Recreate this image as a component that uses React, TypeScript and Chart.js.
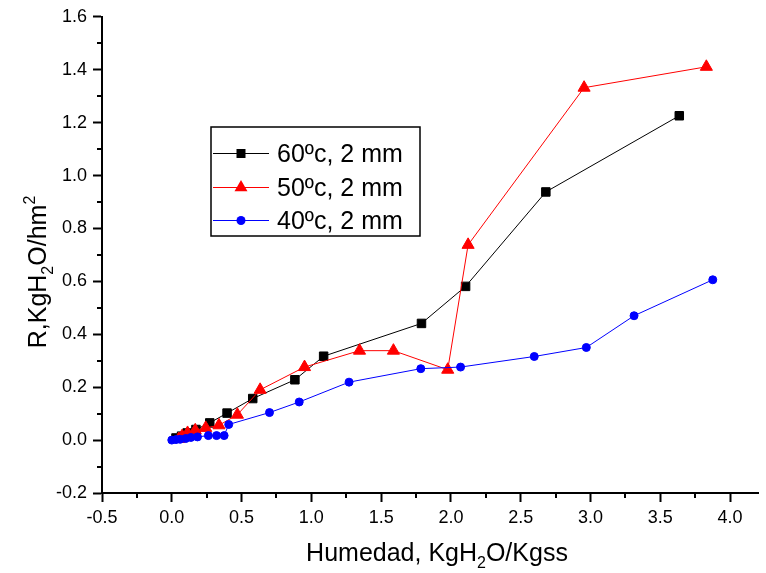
import React, { useEffect, useRef } from 'react';
import { Chart, registerables } from 'chart.js';

Chart.register(...registerables);

// ---- Data ----
const HUM_60 = [0.03, 0.07, 0.11, 0.173, 0.272, 0.396, 0.58, 0.882, 1.088, 1.789, 2.105, 2.68, 3.636];
const R_60 = [0.008, 0.015, 0.027, 0.04, 0.065, 0.102, 0.157, 0.228, 0.317, 0.441, 0.581, 0.938, 1.226];

const HUM_50 = [0.05, 0.074, 0.113, 0.168, 0.243, 0.338, 0.47, 0.633, 0.951, 1.345, 1.588, 1.977, 2.123, 2.954, 3.83];
const R_50 = [0.004, 0.015, 0.027, 0.037, 0.046, 0.056, 0.096, 0.19, 0.276, 0.338, 0.338, 0.266, 0.738, 1.332, 1.411];

const HUM_40 = [0.0, 0.03, 0.06, 0.1, 0.137, 0.184, 0.262, 0.321, 0.375, 0.408, 0.7, 0.913, 1.27, 1.784, 2.069, 2.597, 2.97, 3.312, 3.876];
const R_40 = [0.0, 0.002, 0.003, 0.006, 0.01, 0.012, 0.017, 0.017, 0.017, 0.059, 0.104, 0.144, 0.219, 0.27, 0.276, 0.316, 0.35, 0.47, 0.606];

const SERIES_LABELS = ['60ºc, 2 mm', '50ºc, 2 mm', '40ºc, 2 mm'];
const SERIES_COLORS = ['#000000', '#ff0000', '#0000ff'];

const X_MIN = -0.5;
const X_MAX = 4.2;
const X_STEP = 0.5;
const Y_MIN = -0.2;
const Y_MAX = 1.6;
const Y_STEP = 0.2;

const X_TITLE = [
  { t: 'Humedad, KgH', s: 25, dy: 0 },
  { t: '2', s: 16, dy: 7 },
  { t: 'O/Kgss', s: 25, dy: 0 },
];
const Y_TITLE = [
  { t: 'R,KgH', s: 25, dy: 0 },
  { t: '2', s: 16, dy: 7 },
  { t: 'O/hm', s: 25, dy: 0 },
  { t: '2', s: 16, dy: -11 },
];

const FONT = 'Arial, "Liberation Sans", sans-serif';

function toPoints(xs: number[], ys: number[]) {
  return xs.map((x, i) => ({ x, y: ys[i] }));
}

function drawRich(ctx: CanvasRenderingContext2D, segs: { t: string; s: number; dy: number }[], cx: number, base: number) {
  let total = 0;
  const widths = segs.map((sg) => {
    ctx.font = `${sg.s}px ${FONT}`;
    const w = ctx.measureText(sg.t).width;
    total += w;
    return w;
  });
  let x = cx - total / 2;
  ctx.textAlign = 'left';
  ctx.textBaseline = 'alphabetic';
  segs.forEach((sg, i) => {
    ctx.font = `${sg.s}px ${FONT}`;
    ctx.fillText(sg.t, x, base + sg.dy);
    x += widths[i];
  });
}

function drawMarker(ctx: CanvasRenderingContext2D, kind: string, x: number, y: number, color: string) {
  ctx.fillStyle = color;
  ctx.beginPath();
  if (kind === 'rect') {
    ctx.rect(x - 4.5, y - 4.5, 9, 9);
  } else if (kind === 'triangle') {
    const r = 7.5;
    ctx.moveTo(x, y - r);
    ctx.lineTo(x + r * 0.866, y + r / 2);
    ctx.lineTo(x - r * 0.866, y + r / 2);
    ctx.closePath();
  } else {
    ctx.arc(x, y, 4.5, 0, Math.PI * 2);
  }
  ctx.fill();
}

const decorPlugin = {
  id: 'decor',
  afterDraw(chart: any) {
    const ctx: CanvasRenderingContext2D = chart.ctx;
    const xs = chart.scales.x;
    const ys = chart.scales.y;
    const area = chart.chartArea;
    ctx.save();
    ctx.strokeStyle = '#000';
    ctx.lineWidth = 2;
    // minor ticks
    ctx.beginPath();
    for (let v = X_MIN + X_STEP / 2; v < X_MAX; v += X_STEP) {
      const px = Math.round(xs.getPixelForValue(v));
      ctx.moveTo(px, area.bottom);
      ctx.lineTo(px, area.bottom + 5);
    }
    for (let v = Y_MIN + Y_STEP / 2; v < Y_MAX; v += Y_STEP) {
      const py = Math.round(ys.getPixelForValue(v));
      ctx.moveTo(area.left - 5, py);
      ctx.lineTo(area.left, py);
    }
    ctx.stroke();

    // legend
    ctx.lineWidth = 1.5;
    ctx.strokeRect(211, 127, 209, 109);
    const kinds = ['rect', 'triangle', 'circle'];
    const rows = [153, 187, 220];
    rows.forEach((ry, i) => {
      ctx.strokeStyle = SERIES_COLORS[i];
      ctx.lineWidth = 1;
      ctx.beginPath();
      ctx.moveTo(213, ry + 0.5);
      ctx.lineTo(269, ry + 0.5);
      ctx.stroke();
      drawMarker(ctx, kinds[i], 241, ry + 0.5, SERIES_COLORS[i]);
      ctx.fillStyle = '#000';
      ctx.font = `25px ${FONT}`;
      ctx.textAlign = 'left';
      ctx.textBaseline = 'alphabetic';
      ctx.fillText(SERIES_LABELS[i], 277, ry + 9);
    });

    // axis titles
    ctx.fillStyle = '#000';
    drawRich(ctx, X_TITLE, 437, 561);
    ctx.save();
    ctx.translate(46, 272);
    ctx.rotate(-Math.PI / 2);
    drawRich(ctx, Y_TITLE, 0, 0);
    ctx.restore();

    ctx.restore();
  },
};

export default function App() {
  const ref = useRef<HTMLCanvasElement | null>(null);
  useEffect(() => {
    if (!ref.current) return;
    const common = { showLine: true, borderWidth: 1, tension: 0, pointBorderWidth: 1 };
    const chart = new Chart(ref.current, {
      type: 'scatter',
      data: {
        datasets: [
          {
            ...common,
            label: SERIES_LABELS[0],
            data: toPoints(HUM_60, R_60),
            borderColor: SERIES_COLORS[0],
            backgroundColor: SERIES_COLORS[0],
            pointStyle: 'rect',
            pointRadius: 6,
            order: 3,
          },
          {
            ...common,
            label: SERIES_LABELS[1],
            data: toPoints(HUM_50, R_50),
            borderColor: SERIES_COLORS[1],
            backgroundColor: SERIES_COLORS[1],
            pointStyle: 'triangle',
            pointRadius: 7,
            order: 2,
          },
          {
            ...common,
            label: SERIES_LABELS[2],
            data: toPoints(HUM_40, R_40),
            borderColor: SERIES_COLORS[2],
            backgroundColor: SERIES_COLORS[2],
            pointStyle: 'circle',
            pointRadius: 4,
            order: 1,
          },
        ],
      },
      options: {
        responsive: false,
        animation: false,
        devicePixelRatio: 1,
        layout: { padding: { left: 0, right: 0, top: 15, bottom: 0 } },
        plugins: { legend: { display: false }, tooltip: { enabled: false } },
        scales: {
          x: {
            type: 'linear',
            min: X_MIN,
            max: X_MAX,
            afterFit: (s: any) => {
              s.height = 80;
            },
            ticks: {
              stepSize: X_STEP,
              includeBounds: false,
              color: '#000',
              font: { family: FONT, size: 18 },
              padding: 5,
              callback: (v: any) => Number(v).toFixed(1),
            },
            grid: { drawOnChartArea: false, drawTicks: true, tickLength: 9, tickWidth: 2, tickColor: '#000' },
            border: { display: true, color: '#000', width: 2 },
          },
          y: {
            type: 'linear',
            min: Y_MIN,
            max: Y_MAX,
            afterFit: (s: any) => {
              s.width = 102;
            },
            ticks: {
              stepSize: Y_STEP,
              color: '#000',
              font: { family: FONT, size: 18 },
              padding: 6,
              callback: (v: any) => Number(v).toFixed(1),
            },
            grid: { drawOnChartArea: false, drawTicks: true, tickLength: 9, tickWidth: 2, tickColor: '#000' },
            border: { display: true, color: '#000', width: 2 },
          },
        },
      },
      plugins: [decorPlugin],
    } as any);
    return () => chart.destroy();
  }, []);
  return (
    <div style={{ position: 'absolute', left: 0, top: 0, width: 766, height: 573, background: '#fff' }}>
      <canvas ref={ref} width={766} height={573} style={{ display: 'block', width: 766, height: 573 }} />
    </div>
  );
}
